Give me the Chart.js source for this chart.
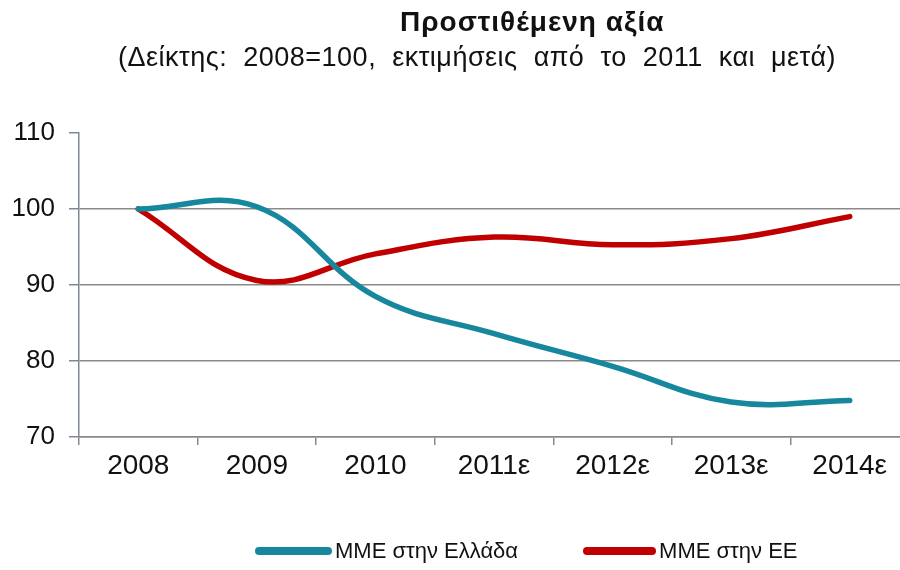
<!DOCTYPE html>
<html lang="el">
<head>
<meta charset="utf-8">
<title>Προστιθέμενη αξία</title>
<script src="https://cdn.jsdelivr.net/npm/chart.js@4.4.1/dist/chart.umd.min.js"></script>
<style>
  html, body { margin:0; padding:0; background:#fff; overflow:hidden; }
  body { width:900px; height:570px; position:relative; font-family:"Liberation Sans", Arial, sans-serif; color:#111; }
  #chart { position:absolute; left:0; top:0; }
  .title { position:absolute; left:400px; top:8px; font-size:28px; font-weight:bold; line-height:28px; letter-spacing:1px; white-space:nowrap; }
  .subtitle { position:absolute; left:118px; top:44px; font-size:27px; line-height:27px; letter-spacing:0.5px; word-spacing:8px; white-space:nowrap; }
  #legend { position:absolute; left:255px; top:539px; display:flex; align-items:center; font-size:22px; line-height:24px; white-space:nowrap; }
  #legend .item { display:flex; align-items:center; }
  #legend .bar { height:8px; border-radius:4px; margin-right:3px; }
  #legend .item + .item { margin-left:65px; }
</style>
</head>
<body>
<canvas id="chart" width="912" height="570"></canvas>
<div class="title">Προστιθέμενη αξία</div>
<div class="subtitle">(Δείκτης: 2008=100, εκτιμήσεις από το 2011 και μετά)</div>
<div id="legend"></div>
<script>
const years = ["2008","2009","2010","2011ε","2012ε","2013ε","2014ε"]
const greece = [100, 100.3, 88.5, 83.6, 79.3, 74.6, 74.8]
const eu = [100, 90.6, 94.1, 96.3, 95.3, 96.1, 99.0]

const TEAL = "#17879e"
const RED = "#c00000"
const AXIS_GRAY = "#8a8a8a"

const series = [
  { label:"ΜΜΕ στην Ελλάδα", data:greece, color:TEAL, bar:77 },
  { label:"ΜΜΕ στην ΕΕ", data:eu, color:RED, bar:73 }
]

const chart = new Chart(document.getElementById("chart"), {
  type:"line",
  data:{
    labels:years,
    datasets:series.map(s=>({
      label:s.label,
      data:s.data,
      borderColor:s.color,
      backgroundColor:s.color,
      borderWidth:5.5,
      borderCapStyle:"round",
      borderJoinStyle:"round",
      tension:0.4,
      pointRadius:0,
      fill:false
    }))
  },
  options:{
    responsive:false,
    animation:false,
    layout:{ padding:{ top:133, bottom:73, left:0, right:3 } },
    plugins:{ legend:{ display:false }, tooltip:{ enabled:false } },
    scales:{
      x:{
        offset:true,
        afterFit:sc=>{ sc.height = 60 },
        grid:{ drawOnChartArea:false, offset:true, tickLength:8, tickColor:AXIS_GRAY, lineWidth:1.5 },
        border:{ color:AXIS_GRAY, width:1.5 },
        ticks:{ color:"#111", padding:4, font:{ family:"Liberation Sans", size:28 }, maxRotation:0 }
      },
      y:{
        min:70, max:110,
        afterFit:sc=>{ sc.width = 79 },
        grid:{
          color:c=> c.tick && c.tick.value===110 ? "rgba(0,0,0,0)" : AXIS_GRAY,
          tickColor:"#7d8896",
          tickLength:10,
          lineWidth:1.5
        },
        border:{ color:"#7d8896", width:1.5 },
        ticks:{ stepSize:10, color:"#111", padding:14, font:{ family:"Liberation Sans", size:26 } }
      }
    }
  }
})

// legend below the plot, built from the datasets
const legendEl = document.getElementById("legend")
series.forEach(s=>{
  const item = document.createElement("div")
  item.className = "item"
  item.innerHTML = `<span class="bar" style="width:${s.bar}px;background:${s.color}"></span><span>${s.label}</span>`
  legendEl.appendChild(item)
})
</script>
</body>
</html>
